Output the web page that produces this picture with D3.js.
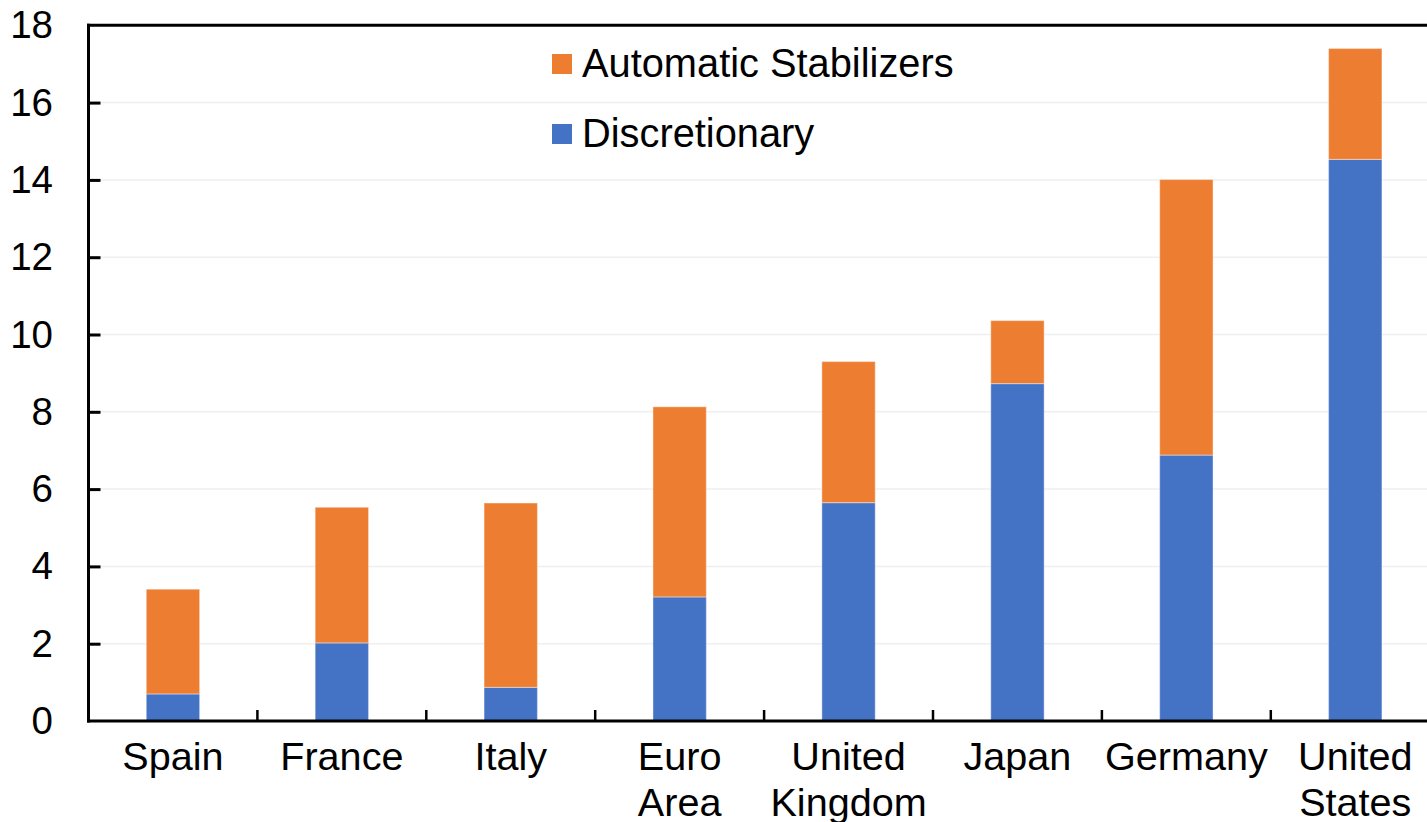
<!DOCTYPE html>
<html>
<head>
<meta charset="utf-8">
<script src="https://cdn.jsdelivr.net/npm/d3@7"></script>
<style>
  html, body { margin: 0; padding: 0; background: #fff; overflow: hidden; }
  svg { display: block; font-family: "Liberation Sans", Arial, sans-serif; }
</style>
</head>
<body>
<svg id="chart" width="1427" height="822"></svg>
<script>
const categories = [["Spain"], ["France"], ["Italy"], ["Euro", "Area"], ["United", "Kingdom"], ["Japan"], ["Germany"], ["United", "States"]];
const discretionary = [0.70, 2.02, 0.87, 3.21, 5.65, 8.73, 6.88, 14.53];
const automaticStabilizers = [2.71, 3.51, 4.77, 4.92, 3.65, 1.63, 7.13, 2.87];
const yTicks = [0, 2, 4, 6, 8, 10, 12, 14, 16, 18];
const seriesNames = ["Automatic Stabilizers", "Discretionary"];
const colors = { "Discretionary": "#4472C4", "Automatic Stabilizers": "#ED7D31" };

(function () {
const svg = d3.select("#chart");
const plotLeft = 88.5, plotTop = 25.3, plotBottom = 721, bandW = 168.9;
const labels = categories.map(c => c.join(" "));

const x = d3.scaleBand().domain(labels).range([plotLeft, plotLeft + bandW * labels.length]).paddingInner(0.684).paddingOuter(0.342);
const y = d3.scaleLinear().domain([0, 18]).range([plotBottom, plotTop]);

// gridlines
svg.append("g").selectAll("line").data(yTicks.filter(v => v > 0 && v < 18)).join("line")
  .attr("x1", plotLeft).attr("x2", 1427)
  .attr("y1", d => y(d)).attr("y2", d => y(d))
  .attr("stroke", "#EFEFEF").attr("stroke-width", 1.5);

// stacked bars
const rows = labels.map((l, i) => ({ key: l, "Discretionary": discretionary[i], "Automatic Stabilizers": automaticStabilizers[i] }));
const stack = d3.stack().keys(["Discretionary", "Automatic Stabilizers"])(rows);
svg.append("g").selectAll("g").data(stack).join("g")
  .attr("fill", d => colors[d.key])
  .selectAll("rect").data(d => d).join("rect")
  .attr("x", d => x(d.data.key))
  .attr("width", x.bandwidth())
  .attr("y", d => y(d[1]))
  .attr("height", d => y(d[0]) - y(d[1]))
  .attr("stroke", "#ffffff").attr("stroke-opacity", 0.35).attr("stroke-width", 1.2);

// top border
svg.append("line").attr("x1", plotLeft - 1.5).attr("x2", 1427).attr("y1", plotTop).attr("y2", plotTop)
  .attr("stroke", "#000").attr("stroke-width", 3);

// y axis
const yAxis = d3.axisRight(y).tickValues(yTicks).tickSize(12).tickFormat("");
const ya = svg.append("g").attr("transform", `translate(${plotLeft},0)`).call(yAxis);
ya.select(".domain").remove();
ya.selectAll(".tick line").attr("stroke", "#000").attr("stroke-width", 3);
ya.selectAll(".tick").filter(d => d === 0 || d === 18).select("line").remove();
svg.append("line").attr("x1", plotLeft).attr("x2", plotLeft).attr("y1", plotTop - 1.5).attr("y2", plotBottom + 1.5)
  .attr("stroke", "#000").attr("stroke-width", 3);
svg.append("g").selectAll("text").data(yTicks).join("text")
  .attr("x", 53).attr("y", d => y(d) + 13)
  .attr("text-anchor", "end").attr("font-size", 38.5).attr("fill", "#000")
  .text(d => d);

// x axis
svg.append("line").attr("x1", plotLeft - 1.5).attr("x2", 1427).attr("y1", plotBottom).attr("y2", plotBottom)
  .attr("stroke", "#000").attr("stroke-width", 3);
const boundaries = labels.map((l, i) => x(l) - x.step() * x.paddingInner() / 2).slice(1);
svg.append("g").selectAll("line").data(boundaries).join("line")
  .attr("x1", d => d).attr("x2", d => d).attr("y1", plotBottom - 11).attr("y2", plotBottom)
  .attr("stroke", "#000").attr("stroke-width", 2.5);
const xl = svg.append("g").selectAll("text").data(categories).join("text")
  .attr("x", (d, i) => x(labels[i]) + x.bandwidth() / 2)
  .attr("y", 770)
  .attr("text-anchor", "middle").attr("font-size", 39.6).attr("fill", "#000");
xl.selectAll("tspan").data(d => d).join("tspan")
  .attr("x", function() { return this.parentNode.getAttribute("x"); })
  .attr("dy", (d, i) => i === 0 ? 0 : 46)
  .text(d => d);

// legend
const lg = svg.append("g").selectAll("g").data(seriesNames).join("g")
  .attr("transform", (d, i) => `translate(552,${54 + i * 70})`);
lg.append("rect").attr("width", 20).attr("height", 20).attr("fill", d => colors[d]);
lg.append("text").attr("x", 30).attr("y", 22.5).attr("font-size", 39.8).attr("fill", "#000").text(d => d);
})();
</script>
</body>
</html>
